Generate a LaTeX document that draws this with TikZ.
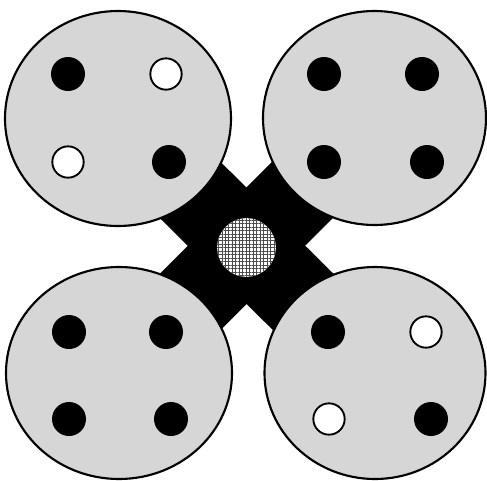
\documentclass[tikz,border=0pt]{standalone}
\usetikzlibrary{patterns,patterns.meta}
\begin{document}
\begin{tikzpicture}[x=0.75pt,y=-0.75pt,
  plate/.style={draw=black,line width=1.6pt,fill=black!16},
  bar/.style={draw=black,line width=62pt},
  pin/.style={circle,fill=black,minimum size=25.5pt,inner sep=0pt},
  hole/.style={circle,draw=black,line width=1.4pt,fill=white,minimum size=23.5pt,inner sep=0pt},
  hub/.style={circle,draw=none,fill=white,minimum size=44pt,inner sep=0pt},
  hubtex/.style={circle,draw=none,minimum size=44pt,inner sep=0pt,
    pattern={Lines[angle=0,distance=2.6pt,line width=0.5pt]},pattern color=black!70},
  hubtexb/.style={circle,draw=none,minimum size=44pt,inner sep=0pt,
    pattern={Lines[angle=90,distance=2.6pt,line width=0.5pt]},pattern color=black!70}]
\useasboundingbox (0,0) rectangle (487,480);
\coordinate (tl) at (118,118.5);
\coordinate (tr) at (374.5,118);
\coordinate (bl) at (119,373);
\coordinate (br) at (375,373);
\draw[bar] (tl) -- (br);
\draw[bar] (tr) -- (bl);
\node[hub] (c) at (246.5,247.5) {};
\node[hubtex] (c1) at (c) {};
\node[hubtexb] (c2) at (c) {};
\draw[plate] (tl) ellipse [x radius=113, y radius=107.5];
\draw[plate] (tr) ellipse [x radius=111.5, y radius=107];
\draw[plate] (bl) ellipse [x radius=113, y radius=106];
\draw[plate] (br) ellipse [x radius=110.5, y radius=106];
% top-left
\node[pin] (a1) at (68,74) {};
\node[hole] (a2) at (166,74) {};
\node[hole] (a3) at (68,162) {};
\node[pin] (a4) at (169,162) {};
% top-right
\node[pin] (b1) at (324,74) {};
\node[pin] (b2) at (422,74) {};
\node[pin] (b3) at (324,162) {};
\node[pin] (b4) at (427,162) {};
% bottom-left
\node[pin] (d1) at (69,332) {};
\node[pin] (d2) at (166,332) {};
\node[pin] (d3) at (69,419) {};
\node[pin] (d4) at (171,419) {};
% bottom-right
\node[pin] (e1) at (328,332) {};
\node[hole] (e2) at (426,332) {};
\node[hole] (e3) at (329,419) {};
\node[pin] (e4) at (431,419) {};
\end{tikzpicture}
\end{document}
